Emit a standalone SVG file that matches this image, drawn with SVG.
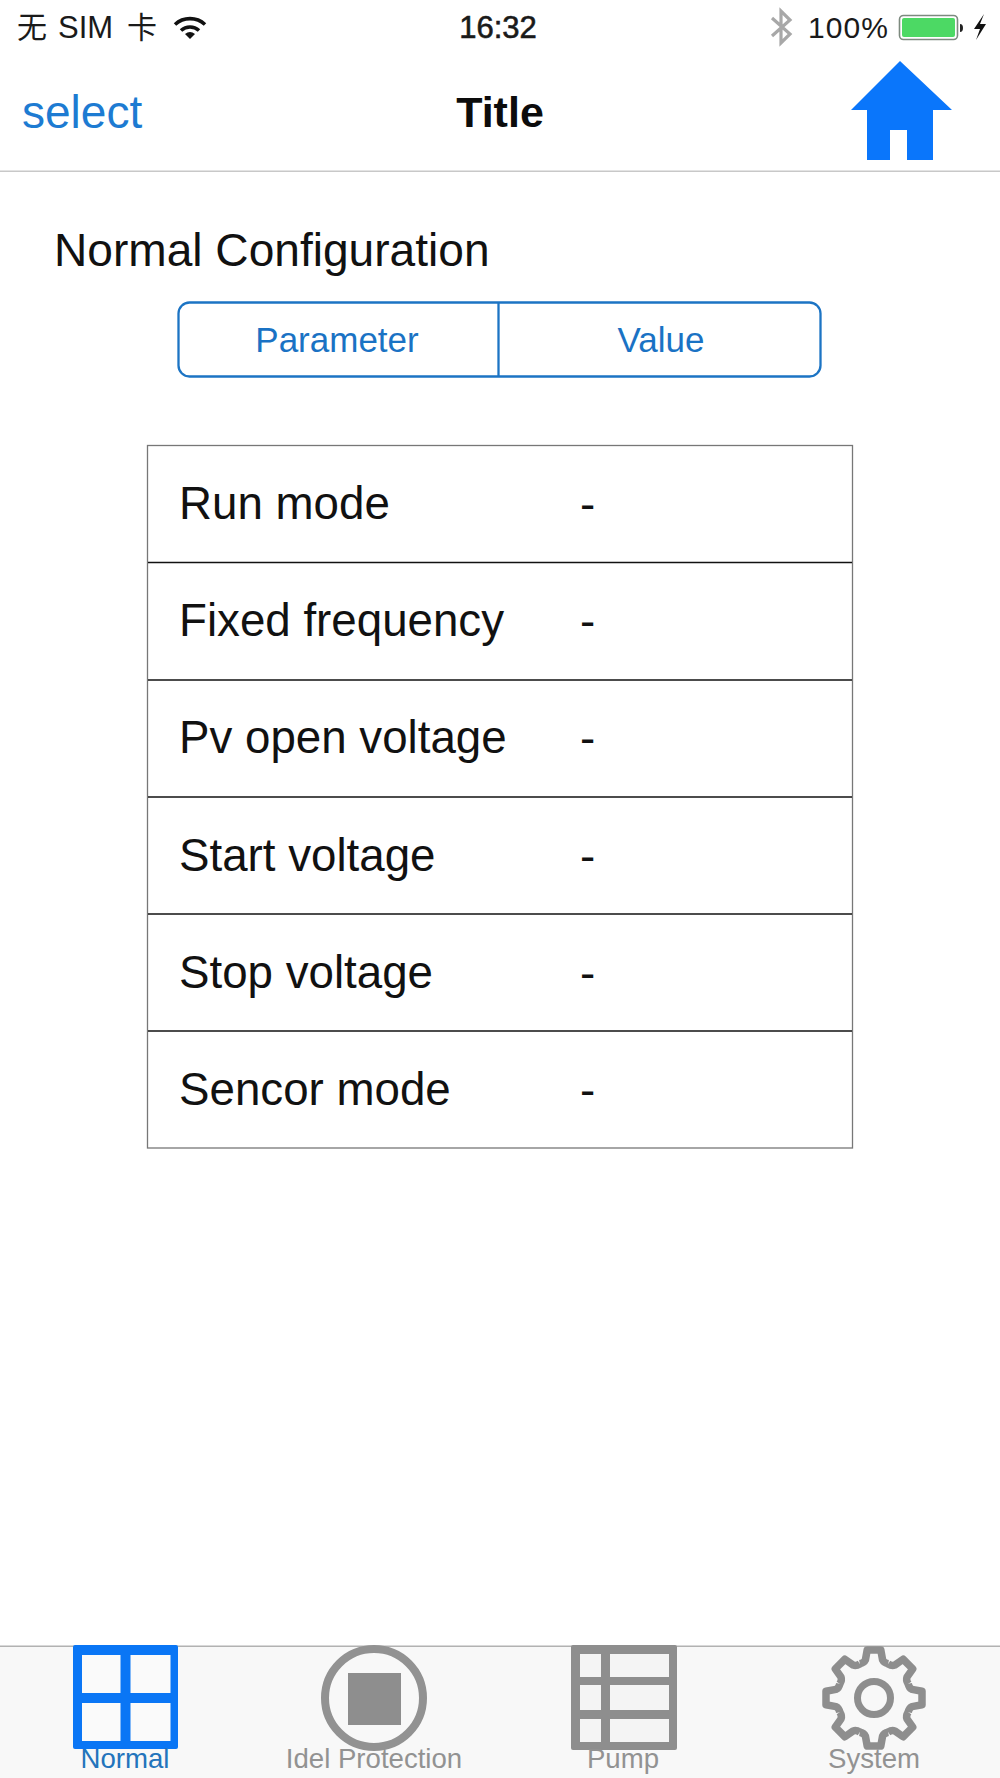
<svg xmlns="http://www.w3.org/2000/svg" width="1000" height="1778" viewBox="0 0 1000 1778">
<style>
text{font-family:"Liberation Sans","Noto Sans CJK SC",sans-serif}
.st{font-size:30px;fill:#1a1a1a}
.row{font-size:45.7px;fill:#111}
.seg{font-size:35px;fill:#1a72c4;text-anchor:middle}
.tab{font-size:27.6px;fill:#929292;text-anchor:middle}
.line{stroke:#111;stroke-width:1.5}
</style>
<defs>
<path id="tooth" d="M-14.2 -34.2Q-10 -35 -8.6 -38L-6.8 -48L6.8 -48L8.600 -38Q10 -35 14.2 -34.2" fill="none" stroke="#8e8e8e" stroke-width="7.500" stroke-linejoin="round"/>
</defs>
<rect width="1000" height="1778" fill="#fff"/>
<g id="status-bar">
<text class="st" y="38"><tspan x="17">无</tspan><tspan x="58" style="font-size:31px">SIM</tspan><tspan x="127">卡</tspan></text>
<g id="wifi" fill="none" stroke="#111" stroke-width="3.600">
<path d="M175 24.500A22 22 0 0 1 205 24.500"/>
<path d="M181 30.500A13.500 13.500 0 0 1 199 30.500"/>
<path d="M185 34L190 39L195 34Q190 30 185 34Z" fill="#111" stroke="none"/>
</g>
<text class="st" x="498" y="38" text-anchor="middle" stroke="#1a1a1a" stroke-width=".6" style="font-size:31px">16:32</text>
<path id="bluetooth" d="M772 18L790 34L781 43V11L790 20L772 36" fill="none" stroke="#a8a8a8" stroke-width="3.200"/>
<text class="st" x="808" y="38" textLength="80">100%</text>
<g id="battery">
<rect x="899.500" y="15.500" width="58" height="24" rx="4" fill="#fff" stroke="#7d8a7f" stroke-width="1.600"/>
<rect x="902" y="18" width="53" height="19" rx="2" fill="#4cd964"/>
<path d="M960 24Q963 24 963 28Q963 32 960 32Z" fill="#222"/>
<path d="M984 14L974 29H980L976 40L986 24H980Z" fill="#111"/>
</g>
</g>
<g id="nav-bar">
<text x="22" y="128" font-size="46" fill="#1d7bd2">select</text>
<text x="500" y="127" font-size="43" font-weight="700" fill="#0c0c0c" text-anchor="middle">Title</text>
<path id="home" d="M900 61L952 110H933V160H907V130H890V160H867V110H851Z" fill="#0a76fb"/>
<rect y="170.500" width="1000" height="1.500" fill="#c8c8c8"/>
</g>
<text id="heading" x="54" y="266" font-size="46.100" fill="#111">Normal Configuration</text>
<g id="segmented-control">
<rect x="178.500" y="302.500" width="642" height="74" rx="11" fill="#fff" stroke="#1c74c4" stroke-width="2.300"/>
<line x1="498.500" y1="302" x2="498.500" y2="377" stroke="#1c74c4" stroke-width="2.300"/>
<text class="seg" x="337" y="352">Parameter</text>
<text class="seg" x="661" y="352">Value</text>
</g>
<g id="table">
<rect x="147.500" y="445.500" width="705" height="702.500" fill="#fff" stroke="#777" stroke-width="1.300"/>
<line class="line" x1="148" y1="562.500" x2="852" y2="562.500"/>
<line class="line" x1="148" y1="680" x2="852" y2="680"/>
<line class="line" x1="148" y1="797" x2="852" y2="797"/>
<line class="line" x1="148" y1="914" x2="852" y2="914"/>
<line class="line" x1="148" y1="1031" x2="852" y2="1031"/>
<g id="row-run-mode"><text class="row" x="179" y="519">Run mode</text><text class="row" x="580" y="520">-</text></g>
<g id="row-fixed-frequency"><text class="row" x="179" y="636">Fixed frequency</text><text class="row" x="580" y="637">-</text></g>
<g id="row-pv-open-voltage"><text class="row" x="179" y="753">Pv open voltage</text><text class="row" x="580" y="754">-</text></g>
<g id="row-start-voltage"><text class="row" x="179" y="871">Start voltage</text><text class="row" x="580" y="872">-</text></g>
<g id="row-stop-voltage"><text class="row" x="179" y="988">Stop voltage</text><text class="row" x="580" y="989">-</text></g>
<g id="row-sencor-mode"><text class="row" x="179" y="1105">Sencor mode</text><text class="row" x="580" y="1106">-</text></g>
</g>
<g id="tab-bar">
<rect y="1646" width="1000" height="132" fill="#f8f8f8"/>
<rect y="1645.500" width="1000" height="1.500" fill="#b2b2b2"/>
<g id="tab-normal">
<rect x="73" y="1645" width="105" height="104" rx="2" fill="#0a76f5"/>
<g fill="#fafafa">
<rect x="82" y="1655" width="38.500" height="38"/>
<rect x="130.500" y="1655" width="40" height="38"/>
<rect x="82" y="1703" width="38.500" height="38"/>
<rect x="130.500" y="1703" width="40" height="38"/>
</g>
<text class="tab" x="125" y="1768" style="fill:#2374bc">Normal</text>
</g>
<g id="tab-idle">
<circle cx="374" cy="1698" r="49" fill="none" stroke="#929292" stroke-width="8"/>
<rect x="348" y="1673" width="53" height="52" fill="#8e8e8e"/>
<text class="tab" x="374" y="1768">Idel Protection</text>
</g>
<g id="tab-pump">
<rect x="571" y="1645" width="106" height="105" rx="2" fill="#8e8e8e"/>
<g fill="#f4f4f4">
<rect x="580" y="1654" width="21" height="23"/>
<rect x="610" y="1654" width="59" height="23"/>
<rect x="580" y="1685" width="21" height="25"/>
<rect x="610" y="1685" width="59" height="25"/>
<rect x="580" y="1719" width="21" height="23"/>
<rect x="610" y="1719" width="59" height="23"/>
</g>
<text class="tab" x="623" y="1768">Pump</text>
</g>
<g id="tab-system">
<g transform="translate(874 1698)">
<use href="#tooth"/>
<use href="#tooth" transform="rotate(45)"/>
<use href="#tooth" transform="rotate(90)"/>
<use href="#tooth" transform="rotate(135)"/>
<use href="#tooth" transform="rotate(180)"/>
<use href="#tooth" transform="rotate(225)"/>
<use href="#tooth" transform="rotate(270)"/>
<use href="#tooth" transform="rotate(315)"/>
<circle r="16.500" fill="none" stroke="#8e8e8e" stroke-width="7"/>
</g>
<text class="tab" x="874" y="1768">System</text>
</g>
</g>
</svg>
